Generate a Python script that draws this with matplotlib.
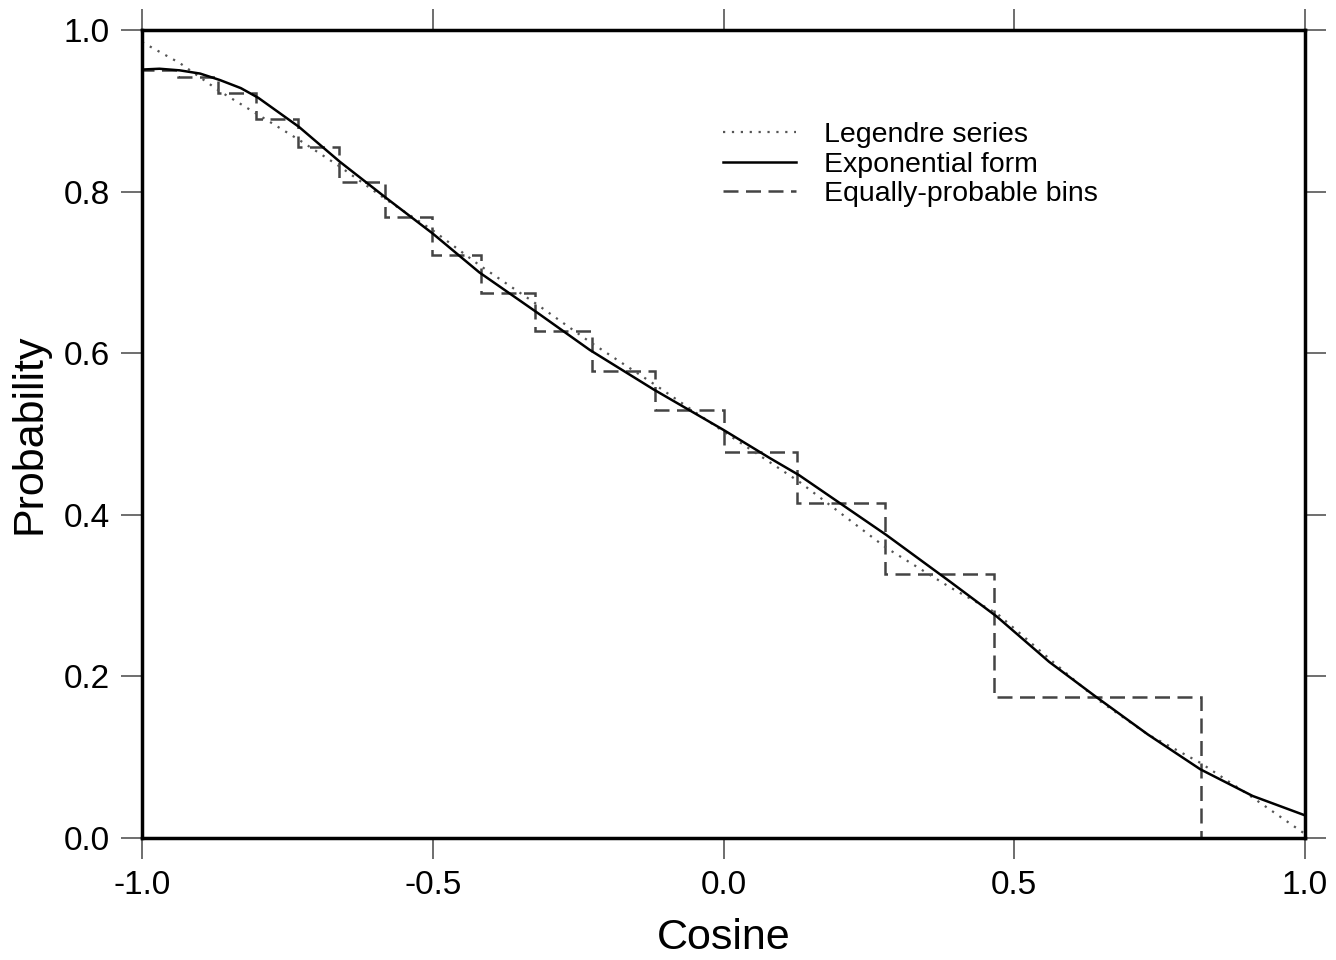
# Angular distribution: Legendre series vs exponential form vs equally-probable bins
import matplotlib.pyplot as plt

plt.rcParams['font.family'] = ['Liberation Sans', 'DejaVu Sans']

# Legendre series (dotted)
leg_cos = [-1.0, -0.935, -0.866, -0.80, -0.73, -0.66, -0.58, -0.50, -0.42, -0.32,
           -0.23, -0.12, 0.0, 0.13, 0.28, 0.39, 0.47, 0.56, 0.64, 0.73, 0.82, 0.90, 1.0]
leg_prob = [0.985, 0.959, 0.924, 0.895, 0.864, 0.831, 0.790, 0.752, 0.709, 0.660,
            0.614, 0.562, 0.503, 0.441, 0.359, 0.310, 0.278, 0.222, 0.173, 0.128,
            0.093, 0.055, 0.005]

# Exponential form (solid)
exp_cos = [-1.0, -0.97, -0.935, -0.90, -0.866, -0.83, -0.80, -0.73, -0.66, -0.58, -0.50,
           -0.42, -0.32, -0.23, -0.12, 0.0, 0.08, 0.13, 0.28, 0.39, 0.47, 0.56,
           0.64, 0.73, 0.82, 0.91, 1.0]
exp_prob = [0.951, 0.952, 0.950, 0.946, 0.938, 0.928, 0.916, 0.880, 0.837, 0.792, 0.748,
            0.700, 0.650, 0.604, 0.555, 0.505, 0.470, 0.449, 0.375, 0.317, 0.274,
            0.218, 0.175, 0.128, 0.085, 0.052, 0.028]

# Equally-probable bins (dashed step)
bin_edges = [-1.0, -0.938, -0.869, -0.804, -0.732, -0.661, -0.582, -0.501, -0.417,
             -0.324, -0.226, -0.118, 0.0, 0.127, 0.278, 0.465, 0.821, 1.0]
bin_prob = [0.950, 0.942, 0.922, 0.890, 0.855, 0.812, 0.768, 0.722, 0.675, 0.627,
            0.578, 0.530, 0.478, 0.414, 0.327, 0.175, 0.0]

fig = plt.figure(figsize=(13.36, 9.6), dpi=100)
ax = fig.add_axes([0.1063, 0.1271, 0.8705, 0.8417])

ax.plot(leg_cos, leg_prob, color='#555555', lw=1.6, linestyle=(0, (1, 3)),
        label='Legendre series')
ax.plot(exp_cos, exp_prob, color='black', lw=1.8, label='Exponential form')
ax.stairs(bin_prob, bin_edges, color='#444444', lw=1.8, linestyle=(0, (6, 3)),
          label='Equally-probable bins')

ax.set_xlim(-1, 1)
ax.set_ylim(0, 1)
ax.set_xticks([-1.0, -0.5, 0.0, 0.5, 1.0])
ax.set_yticks([0.0, 0.2, 0.4, 0.6, 0.8, 1.0])
ax.set_xticklabels(['-1.0', '-0.5', '0.0', '0.5', '1.0'])
ax.set_yticklabels(['0.0', '0.2', '0.4', '0.6', '0.8', '1.0'])
ax.tick_params(direction='out', length=15, width=1.2, color='#555555',
               labelsize=24, top=True, right=True, pad=8)

for s in ax.spines.values():
    s.set_linewidth(2.5)
    s.set_color('black')

ax.set_xlabel('Cosine', fontsize=31, labelpad=12)
ax.set_ylabel('Probability', fontsize=31, labelpad=10)

ax.legend(loc='upper left', bbox_to_anchor=(0.49, 0.90), frameon=False,
          fontsize=20.5, handlelength=2.56, handletextpad=0.98, labelspacing=0.12,
          borderaxespad=0)

fig.savefig('out.png', dpi=100)
